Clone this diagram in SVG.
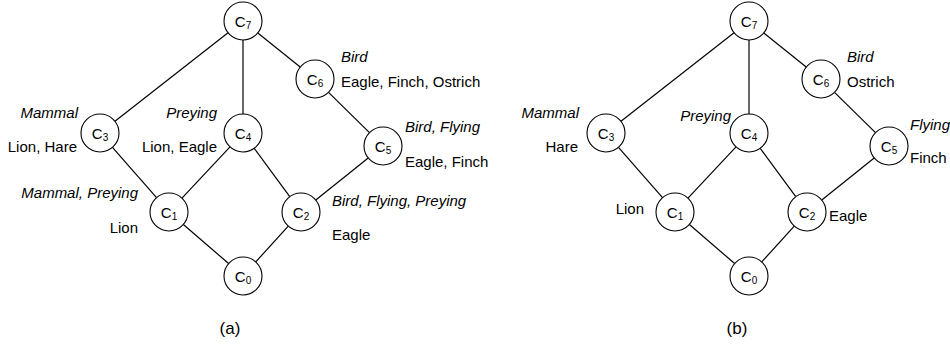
<svg xmlns="http://www.w3.org/2000/svg" width="950" height="346" viewBox="0 0 950 346">
<defs>
<style>
.bg{fill:#fff}
.edge{stroke:#000;stroke-width:1.2;fill:none}
.node circle{fill:#fff;stroke:#000;stroke-width:1.1}
text{font-family:"Liberation Sans",Arial,Helvetica,sans-serif;fill:#000}
.c{font-size:15px;text-anchor:middle}
.c tspan{font-size:10px}
.lab{font-size:15px}
.it{font-style:italic}
.r{text-anchor:end}
.cap{font-size:17px;text-anchor:middle}
</style>
</defs>
<rect class="bg" x="0" y="0" width="950" height="346"/>

<!-- Diagram (a) -->
<g id="diagram-a">
<g id="connectors-a">
<line class="edge" x1="228.04" y1="32.72" x2="114.96" y2="121.28"/>
<line class="edge" x1="243" y1="40" x2="243" y2="114"/>
<line class="edge" x1="257.8" y1="32.92" x2="300.2" y2="67.08"/>
<line class="edge" x1="328.53" y1="92.34" x2="369.47" y2="132.66"/>
<line class="edge" x1="112.5" y1="147.31" x2="156.5" y2="197.69"/>
<line class="edge" x1="230.01" y1="146.87" x2="181.99" y2="198.13"/>
<line class="edge" x1="254.24" y1="148.32" x2="289.76" y2="196.68"/>
<line class="edge" x1="368.2" y1="157.91" x2="315.8" y2="200.09"/>
<line class="edge" x1="183.37" y1="224.43" x2="228.63" y2="263.57"/>
<line class="edge" x1="288.24" y1="226.08" x2="255.76" y2="261.92"/>
</g>
<g id="a-C7" class="node"><circle cx="243" cy="21" r="19"/><text class="c" x="243" y="26.5">C<tspan dy="2">7</tspan></text></g>
<g id="a-C6" class="node"><circle cx="315" cy="79" r="19"/><text class="c" x="315" y="84.5">C<tspan dy="2">6</tspan></text>
<text class="lab it" x="341" y="62">Bird</text><text class="lab" x="341" y="87">Eagle, Finch, Ostrich</text></g>
<g id="a-C3" class="node"><circle cx="100" cy="133" r="19"/><text class="c" x="100" y="138.5">C<tspan dy="2">3</tspan></text>
<text class="lab it r" x="78" y="118">Mammal</text><text class="lab r" x="77" y="152">Lion, Hare</text></g>
<g id="a-C4" class="node"><circle cx="243" cy="133" r="19"/><text class="c" x="243" y="138.5">C<tspan dy="2">4</tspan></text>
<text class="lab it r" x="217" y="118">Preying</text><text class="lab r" x="217" y="152">Lion, Eagle</text></g>
<g id="a-C5" class="node"><circle cx="383" cy="146" r="19"/><text class="c" x="383" y="151.5">C<tspan dy="2">5</tspan></text>
<text class="lab it" x="405" y="132">Bird, Flying</text><text class="lab" x="405" y="167">Eagle, Finch</text></g>
<g id="a-C1" class="node"><circle cx="169" cy="212" r="19"/><text class="c" x="169" y="217.5">C<tspan dy="2">1</tspan></text>
<text class="lab it r" x="138" y="198">Mammal, Preying</text><text class="lab r" x="138" y="233">Lion</text></g>
<g id="a-C2" class="node"><circle cx="301" cy="212" r="19"/><text class="c" x="301" y="217.5">C<tspan dy="2">2</tspan></text>
<text class="lab it" x="332" y="206">Bird, Flying, Preying</text><text class="lab" x="332" y="240">Eagle</text></g>
<g id="a-C0" class="node"><circle cx="243" cy="276" r="19"/><text class="c" x="243" y="281.5">C<tspan dy="2">0</tspan></text></g>
<text class="cap" x="230" y="334">(a)</text>
</g>

<!-- Diagram (b) -->
<g id="diagram-b" transform="translate(506,0)">
<g id="connectors-b">
<line class="edge" x1="228.04" y1="32.72" x2="114.96" y2="121.28"/>
<line class="edge" x1="243" y1="40" x2="243" y2="114"/>
<line class="edge" x1="257.8" y1="32.92" x2="300.2" y2="67.08"/>
<line class="edge" x1="328.53" y1="92.34" x2="369.47" y2="132.66"/>
<line class="edge" x1="112.5" y1="147.31" x2="156.5" y2="197.69"/>
<line class="edge" x1="230.01" y1="146.87" x2="181.99" y2="198.13"/>
<line class="edge" x1="254.24" y1="148.32" x2="289.76" y2="196.68"/>
<line class="edge" x1="368.2" y1="157.91" x2="315.8" y2="200.09"/>
<line class="edge" x1="183.37" y1="224.43" x2="228.63" y2="263.57"/>
<line class="edge" x1="288.24" y1="226.08" x2="255.76" y2="261.92"/>
</g>
<g id="b-C7" class="node"><circle cx="243" cy="21" r="19"/><text class="c" x="243" y="26.5">C<tspan dy="2">7</tspan></text></g>
<g id="b-C6" class="node"><circle cx="315" cy="79" r="19"/><text class="c" x="315" y="84.5">C<tspan dy="2">6</tspan></text>
<text class="lab it" x="341" y="62">Bird</text><text class="lab" x="341" y="87">Ostrich</text></g>
<g id="b-C3" class="node"><circle cx="100" cy="133" r="19"/><text class="c" x="100" y="138.5">C<tspan dy="2">3</tspan></text>
<text class="lab it r" x="73" y="118">Mammal</text><text class="lab r" x="72" y="152">Hare</text></g>
<g id="b-C4" class="node"><circle cx="243" cy="133" r="19"/><text class="c" x="243" y="138.5">C<tspan dy="2">4</tspan></text>
<text class="lab it r" x="225" y="121">Preying</text></g>
<g id="b-C5" class="node"><circle cx="383" cy="146" r="19"/><text class="c" x="383" y="151.5">C<tspan dy="2">5</tspan></text>
<text class="lab it" x="404" y="130">Flying</text><text class="lab" x="404" y="163">Finch</text></g>
<g id="b-C1" class="node"><circle cx="169" cy="212" r="19"/><text class="c" x="169" y="217.5">C<tspan dy="2">1</tspan></text>
<text class="lab r" x="138" y="214">Lion</text></g>
<g id="b-C2" class="node"><circle cx="301" cy="212" r="19"/><text class="c" x="301" y="217.5">C<tspan dy="2">2</tspan></text>
<text class="lab" x="323" y="221">Eagle</text></g>
<g id="b-C0" class="node"><circle cx="243" cy="276" r="19"/><text class="c" x="243" y="281.5">C<tspan dy="2">0</tspan></text></g>
<text class="cap" x="231" y="334">(b)</text>
</g>
</svg>
